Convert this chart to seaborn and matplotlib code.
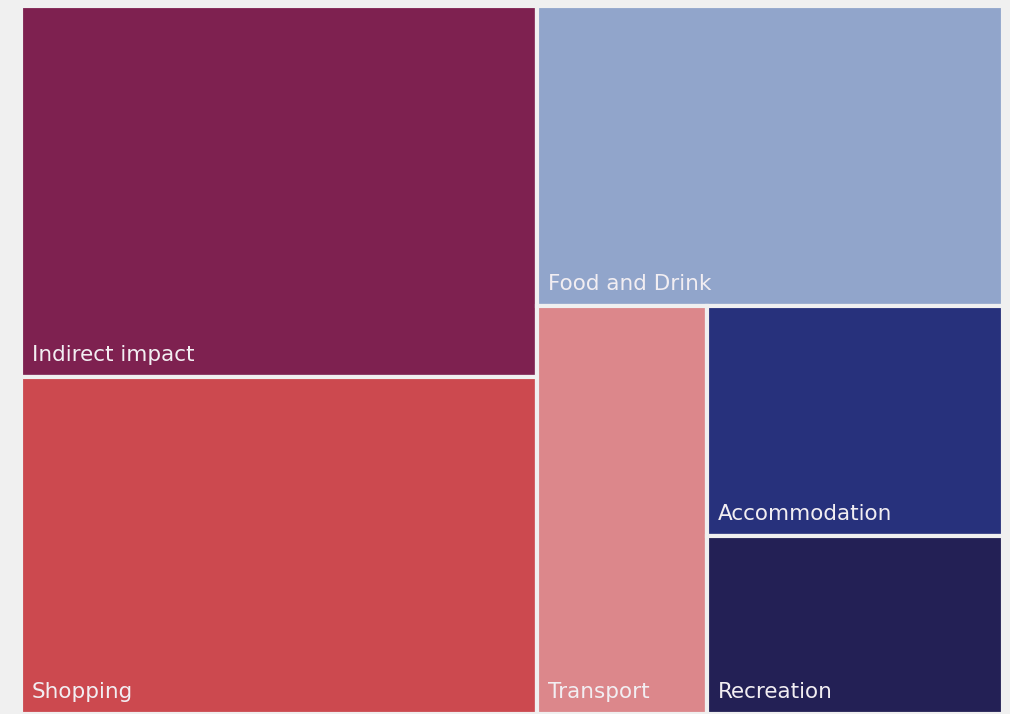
"""Treemap of visitor spending by category."""

import matplotlib.pyplot as plt
import seaborn as sns
from matplotlib.patches import Rectangle

categories = [
    "Indirect impact",
    "Shopping",
    "Food and Drink",
    "Transport",
    "Accommodation",
    "Recreation",
]
values = [27.6, 25.0, 20.1, 10.0, 9.8, 7.6]
colors = ["#7e2150", "#cc494f", "#91a5cb", "#dc878b", "#27317c", "#232055"]

# strips of the layout: orientation and member indices
strips = [("col", [0, 1]), ("row", [2]), ("col", [3]), ("col", [4, 5])]

sns.set_theme(style="white")
plt.rcParams["font.family"] = ["DejaVu Sans"]

BG = "#f0f0f0"
WIDTH, HEIGHT = 980.0, 708.0


def layout(values, strips, width, height):
    """Lay values out as strips inside a width x height box (y grows up)."""
    scale = width * height / sum(values)
    x0, y0, w, h = 0.0, 0.0, width, height
    rects = {}
    for orient, members in strips:
        area = sum(values[i] for i in members) * scale
        if orient == "col":
            strip_w = area / h
            top = y0 + h
            for i in members:
                cell_h = values[i] * scale / strip_w
                rects[i] = (x0, top - cell_h, strip_w, cell_h)
                top -= cell_h
            x0 += strip_w
            w -= strip_w
        else:
            strip_h = area / w
            left = x0
            for i in members:
                cell_w = values[i] * scale / strip_h
                rects[i] = (left, y0 + h - strip_h, cell_w, strip_h)
                left += cell_w
            h -= strip_h
    return rects


fig = plt.figure(figsize=(10.1, 7.14), dpi=100, facecolor=BG)
ax = fig.add_axes([21 / 1010, 0, (WIDTH + 2) / 1010, HEIGHT / 714])
ax.set_facecolor(BG)

rects = layout(values, strips, WIDTH, HEIGHT)
for i, name in enumerate(categories):
    x, y, w, h = rects[i]
    ax.add_patch(
        Rectangle((x, y), w, h, facecolor=colors[i], edgecolor=BG, linewidth=3)
    )
    ax.text(
        x + 11,
        y + 16,
        name,
        color="#f2eef2",
        fontsize=15.5,
        ha="left",
        va="baseline",
    )

ax.set_xlim(0, WIDTH)
ax.set_ylim(0, HEIGHT)
ax.axis("off")

fig.savefig("out.png", dpi=100, facecolor=BG)
